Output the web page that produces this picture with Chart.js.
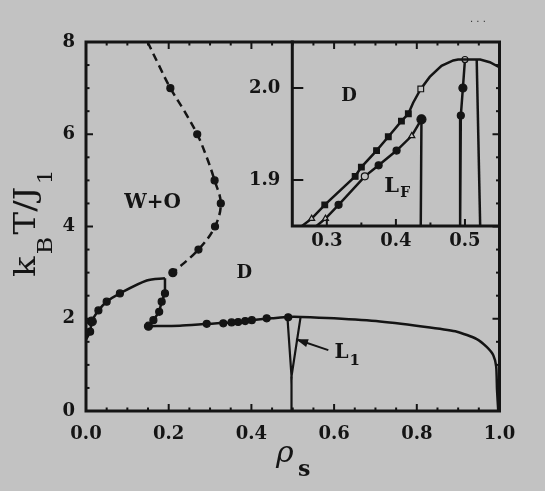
<!DOCTYPE html>
<html>
<head>
<meta charset="utf-8">
<script src="https://cdn.jsdelivr.net/npm/chart.js@4.4.1/dist/chart.umd.min.js"></script>
<style>
html, body { margin: 0; padding: 0; background: #c2c2c2; }
#wrap { position: relative; width: 545px; height: 491px; }
#wrap canvas { position: absolute; left: 0; top: 0; }
</style>
</head>
<body>
<div id="wrap">
  <canvas id="main" width="545" height="491"></canvas>
  <canvas id="inset" width="545" height="491"></canvas>
</div>
<script>
// ---- main diagram data (rho_s, k_B T / J_1) ----
const woDashRho = [0.149, 0.176, 0.204, 0.238, 0.269, 0.292, 0.311, 0.326, 0.312, 0.272, 0.210];
const woDashT   = [8.0,   7.5,   7.0,   6.5,   6.0,   5.5,   5.0,   4.5,   4.0,   3.5,   3.0];
const woDashR   = [0,     0,     3.5,   0,     3.5,   0,     3.5,   3.5,   3.5,   3.5,   4];

// W+O lower boundary: curved branch from the rho=0 axis up to the corner
const woRho = [0.000, 0.010, 0.014, 0.030, 0.050, 0.082, 0.147, 0.191];
const woT   = [1.55,  1.72,  1.94,  2.18,  2.37,  2.55,  2.83,  2.88];
const woR   = [0,     3.5,   4.5,   3.5,   3.5,   3.5,   0,     0];
// steep branch from the corner down to the triple point
const woDownRho = [0.191, 0.191, 0.183, 0.177, 0.163, 0.151];
const woDownT   = [2.88,  2.55,  2.37,  2.15,  1.97,  1.84];
const woDownR   = [0,     3.5,   3.5,   3.5,   3.5,   4];

const lowRho = [0.151, 0.227, 0.292, 0.348, 0.405, 0.450, 0.489, 0.520, 0.600, 0.711, 0.832, 0.897, 0.945, 0.969, 0.985, 0.992, 0.994, 0.997];
const lowT   = [1.84,  1.85,  1.89,  1.92,  1.975, 2.01,  2.04,  2.04,  2.01,  1.94,  1.81,  1.72,  1.56,  1.39,  1.21,  0.96,  0.46,  0.0];

const lowPtsRho = [0.292, 0.332, 0.352, 0.368, 0.385, 0.401, 0.437, 0.489];
const lowPtsT   = [1.89,  1.90,  1.92,  1.93,  1.95,  1.97,  2.01,  2.03];

const l1Rho = [0.487, 0.497, 0.519];
const l1T   = [2.05,  0.75,  2.04];
const l1StemRho = [0.497, 0.497];
const l1StemT   = [0.75,  0.0];

const arrowRho = [0.586, 0.508];
const arrowT   = [1.32,  1.555];

const xTickVals = [0, 0.2, 0.4, 0.6, 0.8, 1.0];
const xTickLabels = ['0.0', '0.2', '0.4', '0.6', '0.8', '1.0'];
const yTickVals = [0, 2, 4, 6, 8];
const yTickLabels = ['0', '2', '4', '6', '8'];

// ---- inset data ----
const upRho = [0.264, 0.278, 0.297, 0.341, 0.350, 0.372, 0.389, 0.408, 0.418, 0.425, 0.436, 0.449, 0.466, 0.483, 0.490, 0.522, 0.536, 0.551];
const upT   = [1.850, 1.858, 1.873, 1.904, 1.914, 1.932, 1.947, 1.964, 1.972, 1.984, 1.999, 2.012, 2.024, 2.030, 2.031, 2.031, 2.028, 2.022];
const upR     = [0, 3.5, 4, 4, 4, 4, 4, 4, 4, 0, 4, 0, 0, 0, 0, 0, 0, 0];
const upStyle = ['circle', 'triangle', 'rect', 'rect', 'rect', 'rect', 'rect', 'rect', 'rect', 'circle', 'rect', 'circle', 'circle', 'circle', 'circle', 'circle', 'circle', 'circle'];
const upOpen  = [0, 1, 0, 0, 0, 0, 0, 0, 0, 0, 1, 0, 0, 0, 0, 0, 0, 0];

const lfRho = [0.285, 0.298, 0.317, 0.355, 0.375, 0.401, 0.423, 0.437, 0.436];
const lfT   = [1.850, 1.858, 1.873, 1.904, 1.916, 1.932, 1.948, 1.966, 1.850];
const lfR     = [0, 3.5, 3.5, 3.5, 3.5, 3.5, 3.5, 4.5, 0];
const lfStyle = ['circle', 'triangle', 'circle', 'circle', 'circle', 'circle', 'triangle', 'circle', 'circle'];
const lfOpen  = [0, 1, 0, 1, 0, 0, 1, 0, 0];

const v1Rho = [0.500, 0.497, 0.494, 0.493];
const v1T   = [2.031, 2.000, 1.970, 1.850];
const v1R   = [3, 4, 3.5, 0];
const v1Open = [1, 0, 0, 0];
const v2Rho = [0.517, 0.522];
const v2T   = [2.031, 1.850];

const ixTickVals = [0.3, 0.4, 0.5];
const ixTickLabels = ['0.3', '0.4', '0.5'];
const iyTickVals = [1.9, 2.0];
const iyTickLabels = ['1.9', '2.0'];

const INK = '#141414';
const BG = '#c2c2c2';
const TICK_FONT = { family: 'DejaVu Serif', size: 18, weight: 'bold' };

function pts(xs, ys) { return xs.map((v, i) => ({ x: v, y: ys[i] })); }

function line(xs, ys, extra) {
  return Object.assign({
    data: pts(xs, ys), showLine: true, borderColor: INK, borderWidth: 2.5,
    pointRadius: 0, pointBackgroundColor: INK, pointBorderColor: INK, pointBorderWidth: 1.2,
    tension: 0
  }, extra || {});
}

// frame and inward ticks
const frameTicks = {
  id: 'frameTicks',
  afterDatasetsDraw(chart, args, o) {
    const { ctx, chartArea: a, scales: { x, y } } = chart;
    ctx.save();
    ctx.strokeStyle = INK;
    ctx.lineWidth = 2;
    const tk = (px, py, dx, dy) => { ctx.beginPath(); ctx.moveTo(px, py); ctx.lineTo(px + dx, py + dy); ctx.stroke(); };
    o.xTicks.forEach(t => {
      const px = x.getPixelForValue(t[0]);
      if (o.sides.includes('bottom')) tk(px, a.bottom, 0, -t[1]);
      if (o.sides.includes('top')) tk(px, a.top, 0, t[1]);
    });
    o.yTicks.forEach(t => {
      const py = y.getPixelForValue(t[0]);
      if (o.sides.includes('left')) tk(a.left, py, t[1], 0);
      if (o.sides.includes('right')) tk(a.right, py, -t[1], 0);
    });
    ctx.lineWidth = 3;
    ctx.lineCap = 'square';
    ctx.beginPath();
    if (o.sides.includes('left')) { ctx.moveTo(a.left, a.top); ctx.lineTo(a.left, a.bottom); }
    if (o.sides.includes('bottom')) { ctx.moveTo(a.left, a.bottom); ctx.lineTo(a.right, a.bottom); }
    if (o.sides.includes('right')) { ctx.moveTo(a.right, a.bottom); ctx.lineTo(a.right, a.top); }
    if (o.sides.includes('top')) { ctx.moveTo(a.right, a.top); ctx.lineTo(a.left, a.top); }
    ctx.stroke();
    ctx.restore();
  }
};

// region labels with subscripts, arrow head, axis titles
const textMarks = {
  id: 'textMarks',
  afterDraw(chart, args, o) {
    const { ctx, scales: { x, y } } = chart;
    ctx.save();
    ctx.fillStyle = INK;
    ctx.textBaseline = 'middle';
    o.items.forEach(it => {
      const px = x.getPixelForValue(it.x), py = y.getPixelForValue(it.y);
      ctx.font = it.font;
      const w = ctx.measureText(it.text).width;
      ctx.textAlign = 'left';
      ctx.fillText(it.text, px - w / 2, py);
      if (it.sub) {
        ctx.font = it.subFont;
        ctx.fillText(it.sub, px + w / 2 + 1, py + it.drop);
      }
    });
    if (o.arrow) {
      const x0 = x.getPixelForValue(arrowRho[0]), y0 = y.getPixelForValue(arrowT[0]);
      const x1 = x.getPixelForValue(arrowRho[1]), y1 = y.getPixelForValue(arrowT[1]);
      const ang = Math.atan2(y1 - y0, x1 - x0);
      ctx.beginPath();
      ctx.moveTo(x1, y1);
      ctx.lineTo(x1 - 12 * Math.cos(ang) + 4 * Math.sin(ang), y1 - 12 * Math.sin(ang) - 4 * Math.cos(ang));
      ctx.lineTo(x1 - 12 * Math.cos(ang) - 4 * Math.sin(ang), y1 - 12 * Math.sin(ang) + 4 * Math.cos(ang));
      ctx.closePath();
      ctx.fill();
    }
    if (o.titles) {
      // y title k_B T / J_1, rotated
      ctx.textBaseline = 'alphabetic';
      ctx.textAlign = 'left';
      const parts = [['k', 0], ['B', 1], ['T/J', 0], ['1', 1]];
      const big = '30px "DejaVu Serif"', small = '21px "DejaVu Serif"';
      let W = 0;
      parts.forEach(p => { ctx.font = p[1] ? small : big; W += ctx.measureText(p[0]).width + 2; });
      ctx.save();
      ctx.translate(35, 222);
      ctx.rotate(-Math.PI / 2);
      ctx.scale(110 / W, 1);
      let cx = -W / 2;
      parts.forEach(p => {
        ctx.font = p[1] ? small : big;
        ctx.fillText(p[0], cx, p[1] ? 17 : 0);
        cx += ctx.measureText(p[0]).width + 2;
      });
      ctx.restore();
      // x title rho_s
      ctx.font = 'italic 30px "DejaVu Serif"';
      ctx.fillText('ρ', 276, 462);
      ctx.font = 'bold 22px "DejaVu Serif"';
      ctx.fillText('s', 298, 476);
      ctx.font = '10px "DejaVu Sans"';
      ctx.fillStyle = '#333';
      ctx.fillText('. . .', 470, 22);
    }
    ctx.restore();
  }
};

function axes(xmin, xmax, ymin, ymax, xv, xl, yv, yl, xh, yw, xpad, ypad) {
  return {
    x: {
      type: 'linear', min: xmin, max: xmax,
      grid: { display: false, drawTicks: false }, border: { display: false },
      afterBuildTicks: s => { s.ticks = xv.map(v => ({ value: v })); },
      afterFit: s => { s.height = xh; },
      ticks: { autoSkip: false, maxRotation: 0, padding: xpad, color: INK, font: TICK_FONT,
               callback: (v, i) => xl[i] }
    },
    y: {
      type: 'linear', min: ymin, max: ymax,
      grid: { display: false, drawTicks: false }, border: { display: false },
      afterBuildTicks: s => { s.ticks = yv.map(v => ({ value: v })); },
      afterFit: s => { s.width = yw; },
      ticks: { autoSkip: false, padding: ypad, color: INK, font: TICK_FONT,
               callback: (v, i) => yl[i] }
    }
  };
}

const mainXTicks = [];
for (let k = 0; k <= 20; k++) mainXTicks.push([k * 0.05, k % 4 === 0 ? 7 : 3.5]);
const mainYTicks = [];
for (let k = 0; k <= 16; k++) mainYTicks.push([k * 0.5, k % 4 === 0 ? 7 : 3.5]);

new Chart(document.getElementById('main'), {
  type: 'scatter',
  data: {
    datasets: [
      line(woDashRho, woDashT, { borderDash: [8, 5], tension: 0.35, pointRadius: woDashR }),
      line(woRho, woT, { pointRadius: woR, tension: 0.3 }),
      line(woDownRho, woDownT, { pointRadius: woDownR }),
      line(lowRho, lowT, { tension: 0.2 }),
      line(lowPtsRho, lowPtsT, { showLine: false, pointRadius: 3.5 }),
      line(l1Rho, l1T, { borderWidth: 2.2 }),
      line(l1StemRho, l1StemT, { borderWidth: 2.2 }),
      line(arrowRho, arrowT, { borderWidth: 2 })
    ]
  },
  options: {
    responsive: false, animation: false, devicePixelRatio: 1, events: [],
    layout: { padding: { left: 0, top: 42, right: 45.5, bottom: 0 } },
    plugins: {
      legend: { display: false }, tooltip: { enabled: false },
      frameTicks: { sides: ['left', 'right', 'top', 'bottom'], xTicks: mainXTicks, yTicks: mainYTicks },
      textMarks: {
        arrow: true, titles: true,
        items: [
          { text: 'W+O', x: 0.161, y: 4.52, font: 'bold 20px "DejaVu Serif"' },
          { text: 'D', x: 0.383, y: 2.99, font: 'bold 18px "DejaVu Serif"' },
          { text: 'L', x: 0.618, y: 1.27, font: 'bold 20px "DejaVu Serif"', sub: '1', subFont: 'bold 15px "DejaVu Serif"', drop: 9 }
        ]
      }
    },
    scales: axes(0, 1, 0, 8, xTickVals, xTickLabels, yTickVals, yTickLabels, 80, 86, 13, 11)
  },
  plugins: [frameTicks, textMarks]
});

const insetXTicks = [[0.3, 7], [0.35, 3.5], [0.4, 7], [0.45, 3.5], [0.5, 7]];
const insetYTicks = [[1.9, 11], [2.0, 11]];

new Chart(document.getElementById('inset'), {
  type: 'scatter',
  data: {
    datasets: [
      line(upRho, upT, { pointRadius: upR, pointStyle: upStyle,
                         pointBackgroundColor: upOpen.map(f => f ? BG : INK) }),
      line(lfRho, lfT, { pointRadius: lfR, pointStyle: lfStyle,
                         pointBackgroundColor: lfOpen.map(f => f ? BG : INK) }),
      line(v1Rho, v1T, { pointRadius: v1R, pointBackgroundColor: v1Open.map(f => f ? BG : INK) }),
      line(v2Rho, v2T)
    ]
  },
  options: {
    responsive: false, animation: false, devicePixelRatio: 1, events: [],
    layout: { padding: { left: 0, top: 42, right: 45.5, bottom: 0 } },
    plugins: {
      legend: { display: false }, tooltip: { enabled: false },
      frameTicks: { sides: ['left', 'bottom'], xTicks: insetXTicks, yTicks: insetYTicks },
      textMarks: {
        items: [
          { text: 'D', x: 0.332, y: 1.9905, font: 'bold 18px "DejaVu Serif"' },
          { text: 'L', x: 0.394, y: 1.893, font: 'bold 21px "DejaVu Serif"', sub: 'F', subFont: 'bold 14px "DejaVu Serif"', drop: 7 }
        ]
      }
    },
    scales: axes(0.25, 0.55, 1.85, 2.05, ixTickVals, ixTickLabels, iyTickVals, iyTickLabels, 265, 292.3, 5, 12)
  },
  plugins: [frameTicks, textMarks]
});
</script>
</body>
</html>
